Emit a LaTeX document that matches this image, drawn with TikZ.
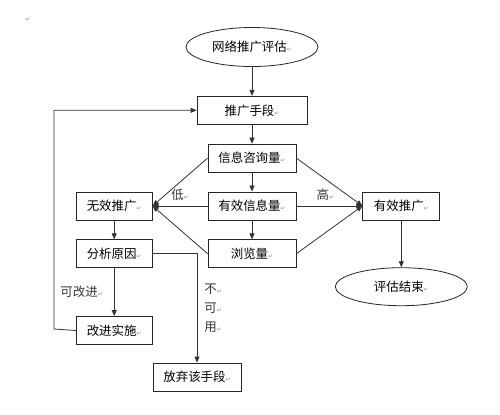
\documentclass[tikz,border=0pt]{standalone}
\usepackage{fontspec}
\setmainfont{Liberation Sans}
\newfontfamily\cjk{Noto Sans CJK SC}
\newfontfamily\symfont{DejaVu Sans}
\usetikzlibrary{shapes.geometric, arrows.meta, positioning}
\newcommand{\pmark}{{\symfont\color{black!45}\fontsize{6}{6}\selectfont ↵}}

\begin{document}
\begin{tikzpicture}[
        x=1bp, y=-1bp,
        font=\cjk\fontsize{12.5}{19}\selectfont,
        node distance=19bp and 55bp,
        process/.style={
            rectangle,
            draw=black!85,
            line width=0.8bp,
            minimum width=76bp,
            minimum height=28bp,
            inner sep=2bp
        },
        terminal/.style={
            ellipse,
            draw=black!85,
            line width=0.8bp,
            minimum width=132bp,
            minimum height=38bp,
            inner sep=1bp
        },
        arrow/.style={
            line width=0.8bp,
            -{Triangle[length=6bp, width=5bp]},
            color=black!80
        },
        cond/.style={
            font=\cjk\fontsize{12.5}{19}\selectfont,
            inner sep=1bp
        }
    ]
    \useasboundingbox (0,0) rectangle (500,414);

    % stray paragraph mark
    \node (mark) at (28,20) {\pmark};

    % Main column
    \node (eval) [terminal, minimum height=39bp] at (252,47) {网络推广评估\pmark};
    \node (means) [process, minimum width=110bp, below=29bp of eval] {推广手段\pmark};
    \node (consult) [process, minimum width=88bp, below=of means] {信息咨询量\pmark};
    \node (info) [process, minimum width=88bp, below=of consult] {有效信息量\pmark};
    \node (browse) [process, minimum width=88bp, below=of info] {浏览量\pmark};

    % Left branch
    \node (bad) [process, left=55bp of info] {无效推广\pmark};
    \node (cause) [process, below=of bad] {分析原因\pmark};
    \node (improve) [process, below=48bp of cause] {改进实施\pmark};
    \node (drop) [process, minimum width=88bp] at (197,377) {放弃该手段\pmark};

    % Right branch
    \node (good) [process, minimum width=77bp, right=66bp of info] {有效推广\pmark};
    \node (finish) [terminal, below=47bp of good] {评估结束\pmark};

    \coordinate (loop) at (54,329);

    % Flow
    \draw [arrow] (eval) -- (means);
    \draw [arrow] (means) -- (consult);
    \draw [arrow] (consult) -- (info);
    \draw [arrow] (info) -- (browse);

    % Low / high
    \draw [arrow] (consult.west) -- (bad.east);
    \draw [arrow] (info) -- node[cond, above=4bp, pos=0.5] {低\pmark} (bad);
    \draw [arrow] (browse.west) -- (bad.east);
    \draw [arrow] (consult.east) -- (good.west);
    \draw [arrow] (info) -- node[cond, above=4bp, pos=0.44] {高\pmark} (good);
    \draw [arrow] (browse.east) -- (good.west);
    \draw [arrow] (good) -- (finish);

    % Ineffective loop
    \draw [arrow] (bad) -- (cause);
    \draw [arrow] (cause) -- node[cond, left=10bp, pos=0.5] {可改进\pmark} (improve);
    \draw [arrow] (cause.east) -| node[cond, right=6bp, pos=0.75, align=left] {不\pmark\\可\pmark\\用\pmark} (drop);
    \draw [arrow] (improve.west) -- (loop) |- (means.west);

\end{tikzpicture}
\end{document}
